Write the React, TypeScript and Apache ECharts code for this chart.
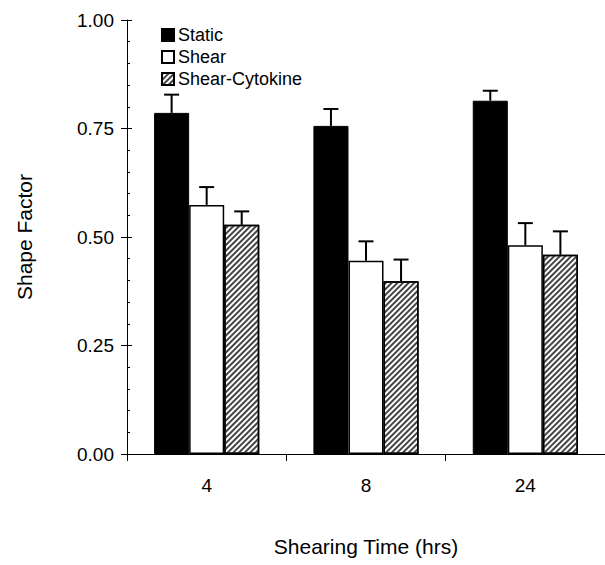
import React, { useEffect, useRef } from "react";
import * as echarts from "echarts";

const categories = ["4", "8", "24"];
const seriesNames = ["Static", "Shear", "Shear-Cytokine"];
const staticVals = [0.786, 0.756, 0.814];
const staticErr = [0.042, 0.039, 0.023];
const shearVals = [0.574, 0.445, 0.481];
const shearErr = [0.041, 0.045, 0.051];
const cytoVals = [0.528, 0.398, 0.459];
const cytoErr = [0.031, 0.05, 0.054];

const FONT = "Liberation Sans";
const BAR_PCT = 0.22;

export default function App() {
  const ref = useRef<HTMLDivElement>(null);
  useEffect(() => {
    document.body.style.margin = "0";
    const chart = echarts.init(ref.current!, null, { renderer: "svg" });
    const vals = [staticVals, shearVals, cytoVals];
    const errs = [staticErr, shearErr, cytoErr];
    const offsets = [-1, 0, 1];

    const errSeries = vals.map((v, si) => ({
      type: "custom",
      name: seriesNames[si] + " err",
      xAxisIndex: 0,
      yAxisIndex: 0,
      z: 1,
      silent: true,
      data: v.map((val, i) => [i, val, errs[si][i]]),
      renderItem: (params: any, api: any) => {
        const cat = api.value(0);
        const val = api.value(1);
        const e = api.value(2);
        const base = api.coord([cat, val]);
        const top = api.coord([cat, val + e]);
        const catW = api.size([1, 0])[0];
        const x = base[0] + offsets[si] * catW * BAR_PCT;
        const half = 7.5;
        return {
          type: "group",
          children: [
            {
              type: "line",
              shape: { x1: x, y1: base[1], x2: x, y2: top[1] },
              style: { stroke: "#000", lineWidth: 2 },
            },
            {
              type: "line",
              shape: { x1: x - half, y1: top[1], x2: x + half, y2: top[1] },
              style: { stroke: "#000", lineWidth: 2 },
            },
          ],
        };
      },
    }));

    const barStyles = [
      { color: "#000", borderColor: "#000", borderWidth: 1 },
      { color: "#fff", borderColor: "#000", borderWidth: 1.5 },
      {
        color: "#fff",
        borderColor: "#000",
        borderWidth: 1.5,
        decal: {
          symbol: "rect",
          symbolSize: 1,
          color: "#444",
          dashArrayX: [1, 0],
          dashArrayY: [1.2, 2.0],
          rotation: -Math.PI / 4,
        },
      },
    ];

    const barSeries = vals.map((v, si) => ({
      type: "bar",
      name: seriesNames[si],
      data: v,
      barWidth: BAR_PCT * 100 + "%",
      barGap: "0%",
      z: 2,
      itemStyle: barStyles[si],
      emphasis: { disabled: true },
    }));

    const tickLabelStyle = { fontFamily: FONT, fontSize: 19, color: "#000" };

    chart.setOption({
      animation: false,
      aria: { enabled: false, decal: { show: false } },
      grid: { left: 127, top: 20, width: 487.5, height: 434 },
      legend: {
        data: seriesNames,
        orient: "vertical",
        left: 156,
        top: 21,
        itemWidth: 12,
        itemHeight: 12,
        itemGap: 4,
        icon: "rect",
        selectedMode: false,
        textStyle: { fontFamily: FONT, fontSize: 18, color: "#000", padding: [0, 0, 0, -1] },
      },
      xAxis: {
        type: "category",
        data: categories,
        name: "Shearing Time (hrs)",
        nameLocation: "middle",
        nameGap: 82,
        nameTextStyle: { fontFamily: FONT, fontSize: 21, color: "#000" },
        axisLine: { lineStyle: { color: "#000", width: 1 } },
        axisTick: { show: true, alignWithLabel: false, length: 7, lineStyle: { color: "#000" } },
        axisLabel: { ...tickLabelStyle, margin: 22 },
        splitLine: { show: false },
      },
      yAxis: [
        {
          type: "value",
          min: 0,
          max: 1,
          interval: 0.25,
          name: "Shape Factor",
          nameLocation: "middle",
          nameGap: 92,
          nameTextStyle: { fontFamily: FONT, fontSize: 21, color: "#000" },
          axisLine: { show: true, lineStyle: { color: "#000", width: 1 } },
          axisTick: { show: true, length: 6, lineStyle: { color: "#000" } },
          axisLabel: {
            ...tickLabelStyle,
            margin: 13,
            formatter: (v: number) => v.toFixed(2),
          },
          splitLine: { show: false },
        },
        {
          type: "value",
          min: 0,
          max: 1,
          interval: 0.25,
          position: "left",
          axisLine: { show: false },
          axisTick: { show: true, inside: true, length: 5, lineStyle: { color: "#000" } },
          minorTick: { show: true, splitNumber: 5, length: 3, lineStyle: { color: "#000" } },
          axisLabel: { show: false },
          splitLine: { show: false },
        },
      ],
      series: [...barSeries, ...errSeries],
    });
    return () => chart.dispose();
  }, []);
  return <div ref={ref} style={{ width: 605, height: 565 }} />;
}
